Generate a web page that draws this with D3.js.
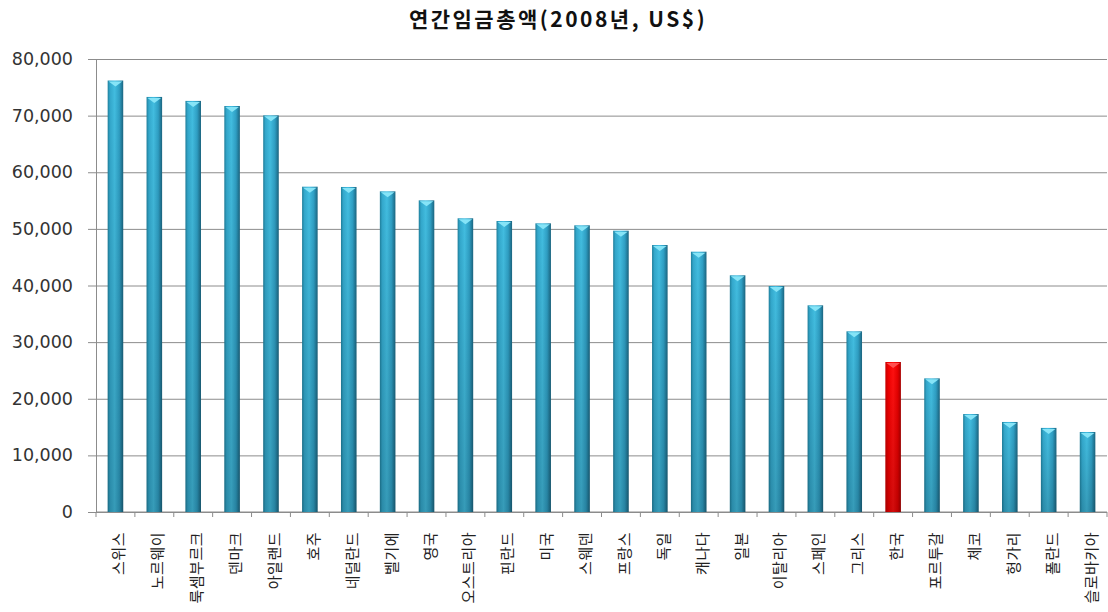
<!DOCTYPE html>
<html>
<head>
<meta charset="utf-8">
<script src="https://cdn.jsdelivr.net/npm/d3@7"></script>
<style>
  body { margin: 0; background: #fff; }
  svg { display: block; }
  .title { font-family: "Noto Sans CJK KR", sans-serif; font-weight: 700; font-size: 21px; letter-spacing: 2.5px; fill: #111; }
  .yaxis text { font-family: "DejaVu Sans", Verdana, sans-serif; font-size: 17.5px; fill: #333; }
  .xlabel { font-family: "Noto Sans CJK KR", sans-serif; font-size: 15px; letter-spacing: 0.5px; fill: #222; }
</style>
</head>
<body>
<svg id="chart" width="1108" height="612"></svg>
<script>
// data
const countries = ["스위스", "노르웨이", "룩셈부르크", "덴마크", "아일랜드", "호주", "네덜란드",
  "벨기에", "영국", "오스트리아", "핀란드", "미국", "스웨덴", "프랑스", "독일", "캐나다",
  "일본", "이탈리아", "스페인", "그리스", "한국", "포르투갈", "체코", "헝가리", "폴란드", "슬로바키아"];
const wages = [76200, 73300, 72600, 71700, 70050, 57450, 57400, 56630, 55040, 51870, 51390,
  50980, 50630, 49680, 47150, 45970, 41800, 39910, 36500, 31910, 26490, 23600, 17300,
  15900, 14850, 14130];
const highlight = "한국";
const yTicks = [0, 10000, 20000, 30000, 40000, 50000, 60000, 70000, 80000];

const margin = {left: 96, top: 59, right: 1, bottom: 100};
const totalW = 1108, totalH = 612;
const W = totalW - margin.left - margin.right;
const H = totalH - margin.top - margin.bottom;

const svg = d3.select('#chart');

svg.append('text')
  .classed('title', true)
  .attr('x', 558)
  .attr('y', 27)
  .attr('text-anchor', 'middle')
  .text("연간임금총액(2008년, US$)");

// gradients for the bars
const defs = svg.append('defs');
function addGrad(id, stops) {
  let g = defs.append('linearGradient').attr('id', id)
    .attr('x1', 0).attr('x2', 1).attr('y1', 0).attr('y2', 0);
  stops.forEach(s => g.append('stop').attr('offset', s[0]).attr('stop-color', s[1]));
}
addGrad('blue', [[0, '#1f7f9c'], [0.15, '#33a8cc'], [0.45, '#42bde0'], [0.75, '#2f9fc4'], [1, '#1b6580']]);
addGrad('red', [[0, '#c80000'], [0.2, '#f20000'], [0.5, '#ff1010'], [0.8, '#e60000'], [1, '#a80000']]);
let shade = defs.append('linearGradient').attr('id', 'shade')
  .attr('x1', 0).attr('x2', 0).attr('y1', 0).attr('y2', 1);
shade.append('stop').attr('offset', 0).attr('stop-color', '#000').attr('stop-opacity', 0);
shade.append('stop').attr('offset', 1).attr('stop-color', '#000').attr('stop-opacity', 0.18);

const g = svg.append('g').attr('transform', `translate(${margin.left},${margin.top})`);

const x = d3.scaleBand().domain(countries).range([0, W]).paddingInner(0.6).paddingOuter(0.3);
const y = d3.scaleLinear().domain([0, 80000]).range([H, 0]);

// grid lines
g.append('g')
  .attr('class', 'grid')
  .call(d3.axisLeft(y).tickValues(yTicks).tickSize(-W).tickFormat(''))
  .call(s => s.select('.domain').remove())
  .call(s => s.selectAll('line').attr('stroke', '#8c8c8c').attr('stroke-width', 1));

// Y axis
g.append('g')
  .classed('yaxis', true)
  .call(d3.axisLeft(y).tickValues(yTicks).tickSize(8).tickPadding(15).tickFormat(d3.format(',')))
  .call(s => s.select('.domain').attr('stroke', '#8c8c8c'))
  .call(s => s.selectAll('.tick line').attr('stroke', '#8c8c8c'));

// X axis: ticks at band boundaries
const xa = g.append('g').attr('transform', `translate(0,${H})`);
xa.append('line').attr('x1', 0).attr('x2', W).attr('stroke', '#8c8c8c');
xa.selectAll('.xt').data(d3.range(countries.length + 1)).join('line')
  .attr('class', 'xt')
  .attr('x1', i => i * (W / countries.length))
  .attr('x2', i => i * (W / countries.length))
  .attr('y1', 0).attr('y2', 5)
  .attr('stroke', '#8c8c8c');

// bars
const bars = g.selectAll('.bar').data(countries).join('g').attr('class', 'bar');
bars.append('rect')
  .attr('x', d => x(d))
  .attr('y', (d, i) => y(wages[i]))
  .attr('width', x.bandwidth())
  .attr('height', (d, i) => H - y(wages[i]))
  .attr('fill', d => d === highlight ? 'url(#red)' : 'url(#blue)');
bars.append('rect')
  .attr('x', d => x(d))
  .attr('y', (d, i) => y(wages[i]))
  .attr('width', x.bandwidth())
  .attr('height', (d, i) => H - y(wages[i]))
  .attr('fill', 'url(#shade)');
// light cap on top
bars.append('path')
  .attr('d', (d, i) => {
    let x0 = x(d), w = x.bandwidth(), y0 = y(wages[i]);
    return `M${x0 + 1},${y0 + 1} L${x0 + w - 1},${y0 + 1} L${x0 + w / 2},${y0 + 6} Z`;
  })
  .attr('fill', d => d === highlight ? '#ff5050' : '#86e4f7');

// category labels, rotated so they read bottom-up, top-aligned under the axis
g.selectAll('.xlabel').data(countries).join('text')
  .attr('class', 'xlabel')
  .attr('transform', d => `translate(${x(d) + x.bandwidth() / 2 + 9},${H + 20}) rotate(-90)`)
  .attr('text-anchor', 'end')
  .text(d => d);
</script>
</body>
</html>
